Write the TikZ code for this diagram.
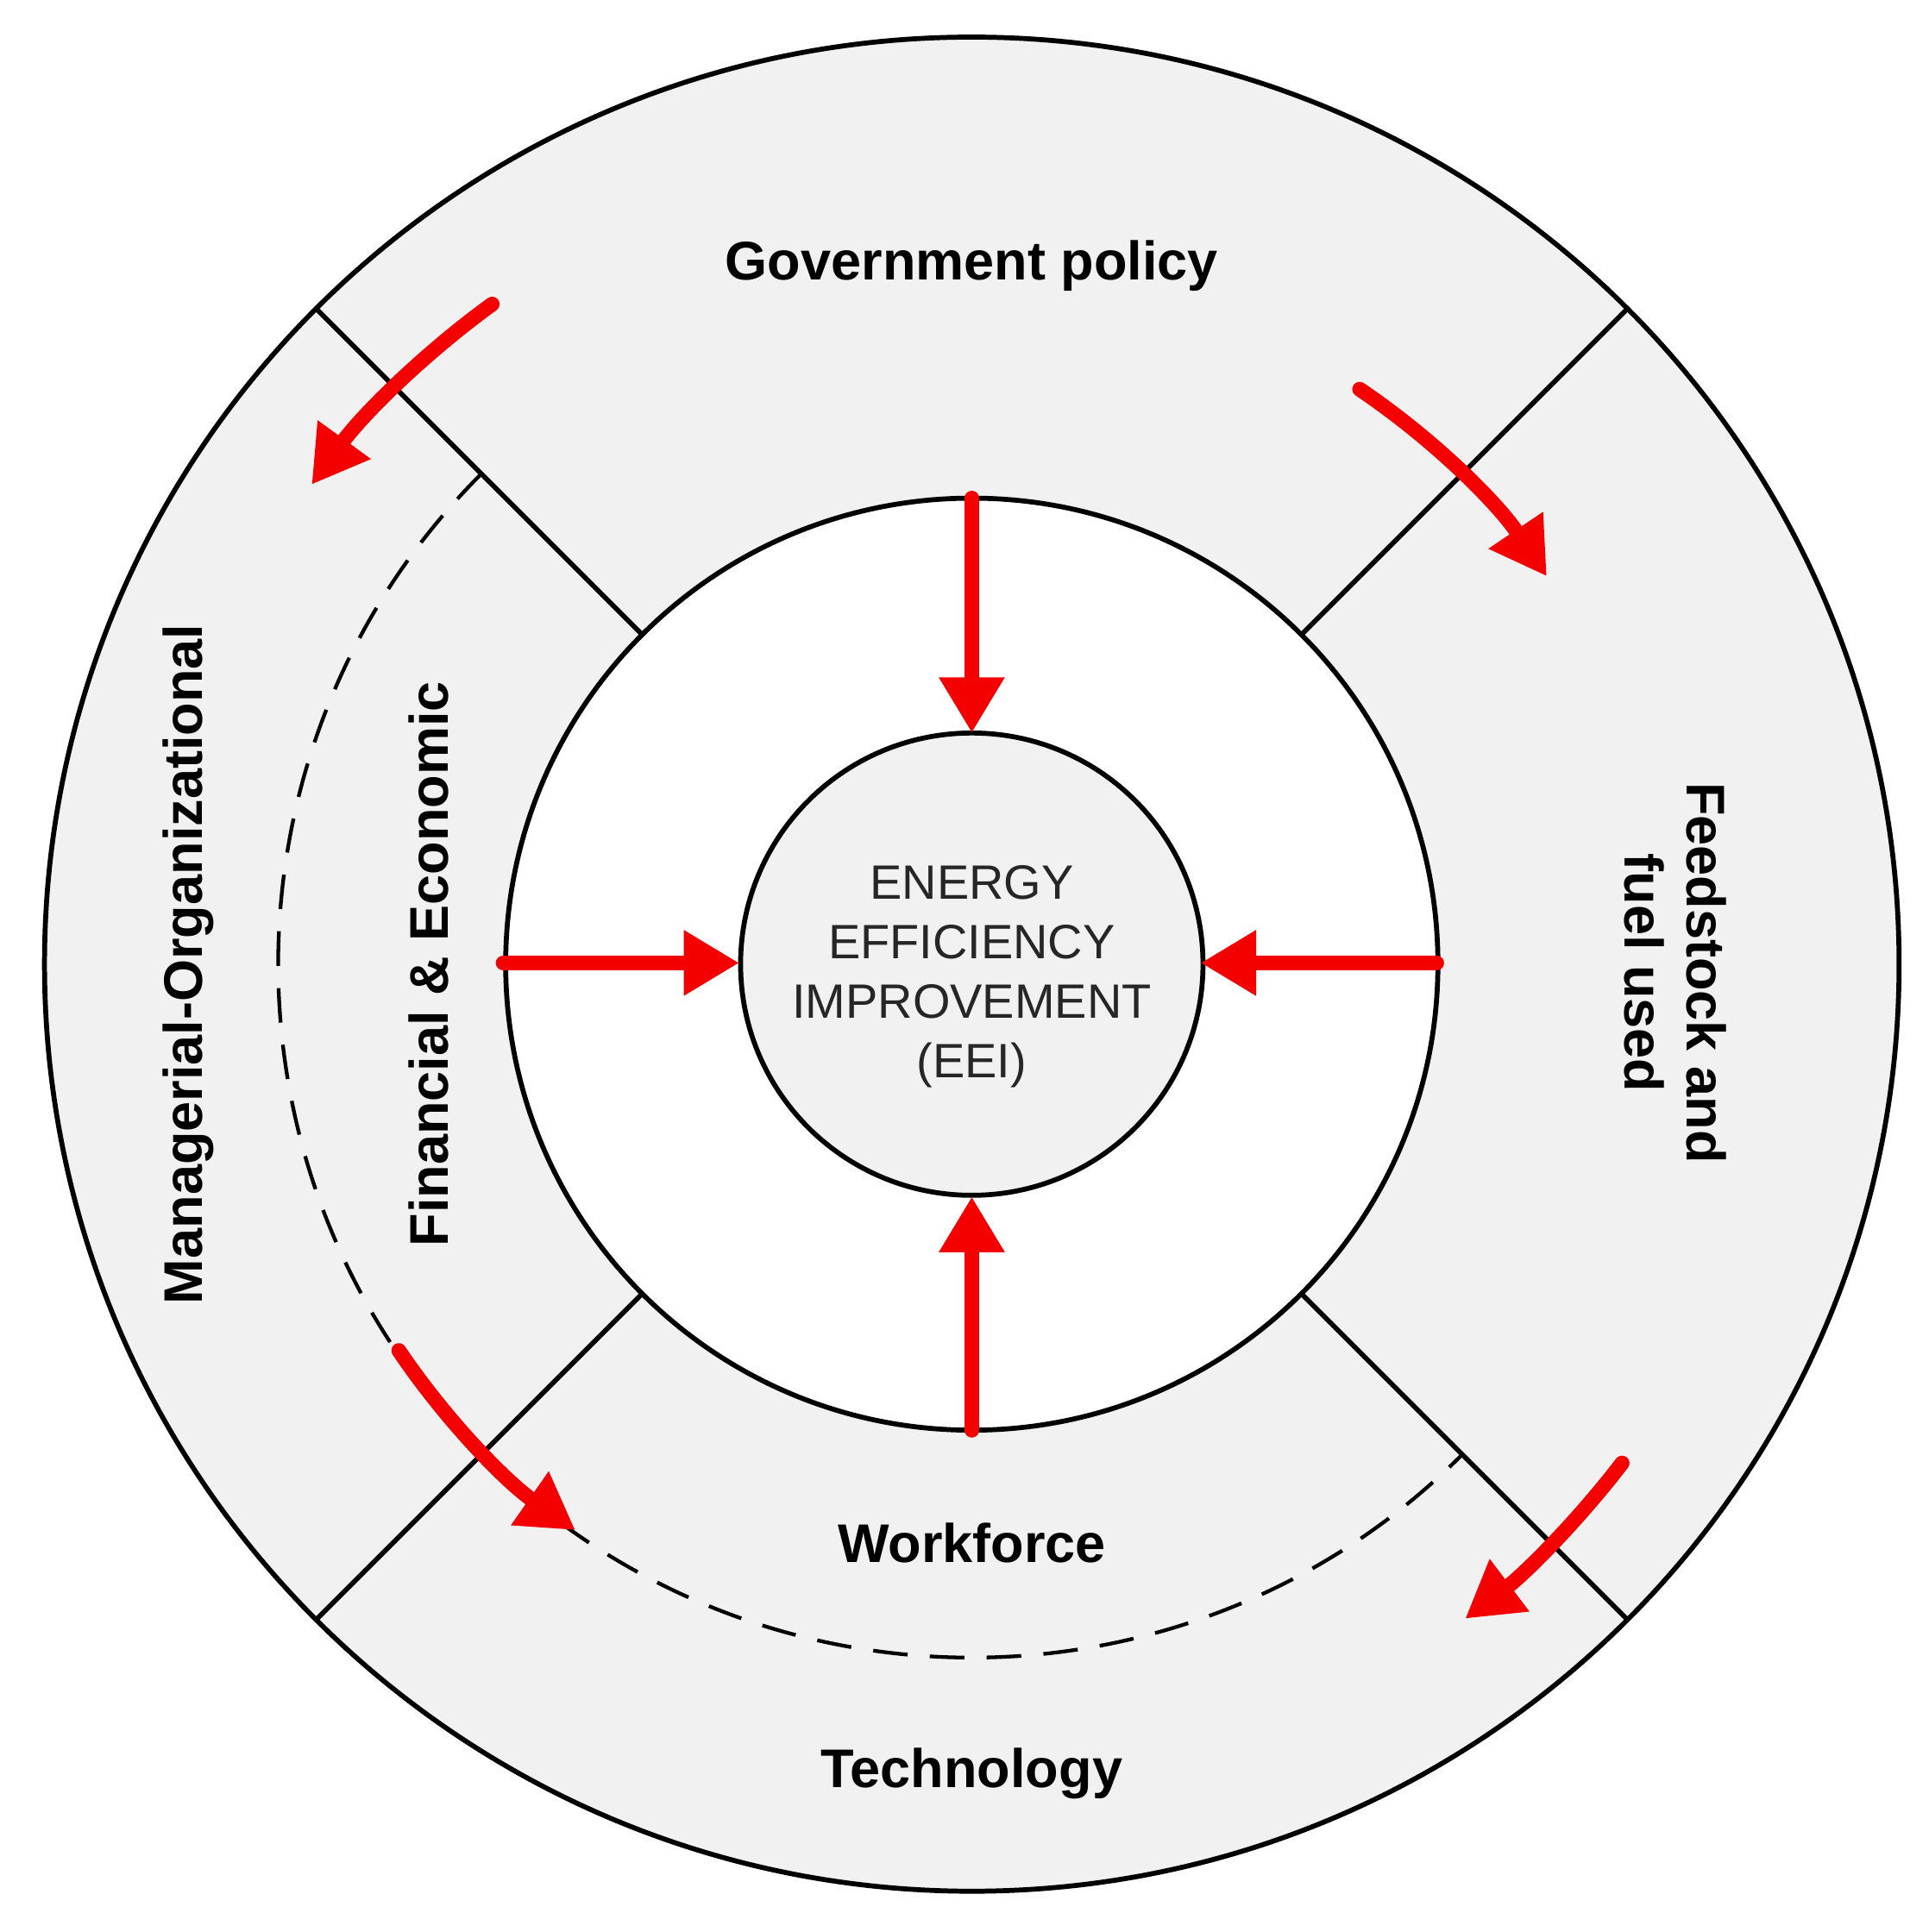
\documentclass[tikz,border=0pt]{standalone}
\usepackage{fontspec}
\setmainfont{Liberation Sans}
\usetikzlibrary{arrows.meta,calc}
\definecolor{ringgrey}{HTML}{F1F1F1}
\definecolor{arrred}{HTML}{F50000}
\begin{document}
\begin{tikzpicture}[x=1pt,y=-1pt,
  ring/.style={draw=black,line width=4pt},
  redarrow/.style={draw=arrred,line width=12pt,line cap=round,-{Triangle[width=50pt,length=45pt]}},
  lab/.style={font=\fontsize{44}{50}\selectfont\bfseries,align=center},
  ctr/.style={font=\fontsize{39}{48}\selectfont,align=center,text=black!85}]
\useasboundingbox (0,0) rectangle (1560,1563);
\coordinate (O) at (786,780);
\fill[ringgrey] (O) circle[radius=750];
\fill[white] (O) circle[radius=377];
\fill[ringgrey] (O) circle[radius=187];
\draw[ring] (O) circle[radius=750];
\draw[ring] (O) circle[radius=377];
\draw[ring] (O) circle[radius=187];
\foreach \a in {45,135,225,315}
  \draw[ring] ($(O)+(\a:377)$) -- ($(O)+(\a:750)$);
\draw[line width=3pt,dash pattern=on 28pt off 18pt] ($(O)+(-135:561)$) arc[start angle=-135,end angle=-315,radius=561];
% straight arrows
\coordinate (t1) at (786,403); \coordinate (t2) at (786,593);
\coordinate (l1) at (407,779); \coordinate (l2) at (598,779);
\coordinate (r1) at (1162,779); \coordinate (r2) at (971,779);
\coordinate (b1) at (786,1157); \coordinate (b2) at (786,968);
\draw[redarrow] (t1) -- (t2);
\draw[redarrow] (l1) -- (l2);
\draw[redarrow] (r1) -- (r2);
\draw[redarrow] (b1) -- (b2);
% curved arrows
\draw[redarrow] ($(O)+(-126:660)$) arc[start angle=-126,end angle=-144,radius=660];
\draw[redarrow] ($(O)+(-56:561)$) arc[start angle=-56,end angle=-34,radius=561];
\draw[redarrow] ($(O)+(-214:559)$) arc[start angle=-214,end angle=-235,radius=559];
\draw[redarrow] ($(O)+(37.5:663)$) arc[start angle=37.5,end angle=53,radius=663];
% labels
\node[lab] (gov) at (786,215) {Government policy};
\node[lab] (wf) at (786,1248) {Workforce};
\node[lab] (tech) at (786,1435) {Technology};
\node[lab,rotate=90] (man) at (152,780) {Managerial-Organizational};
\node[lab,rotate=90] (fin) at (347,780) {Financial \& Economic};
\node[lab,rotate=-90] (feed) at (1355,787) {Feedstock and\\fuel used};
\node[ctr] (eei) at (786,790) {ENERGY\\EFFICIENCY\\IMPROVEMENT\\(EEI)};
\end{tikzpicture}
\end{document}
